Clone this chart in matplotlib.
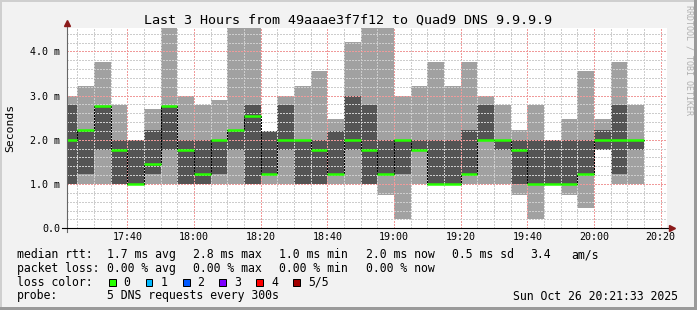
import numpy as np
import matplotlib.pyplot as plt
from matplotlib.patches import Rectangle

# SmokePing-Daten (ms), je 5-Minuten-Slot ab 17:20
first_slot = 17 * 60 + 20
step_min = 5
median = [2.0, 2.23, 2.77, 1.77, 1.0, 1.45, 2.77, 1.77, 1.22, 2.0,
          2.23, 2.53, 1.22, 2.0, 2.0, 1.77, 1.22, 2.0, 1.77, 1.22,
          2.0, 1.77, 1.0, 1.0, 1.22, 2.0, 2.0, 1.77, 1.0, 1.0,
          1.0, 1.22, 2.0, 2.0, 2.0]
ping_max = [3.0, 3.22, 3.76, 2.78, 2.0, 2.69, 4.6, 3.0, 2.78, 2.91,
            4.6, 4.6, 2.21, 3.0, 3.22, 3.55, 2.46, 4.22, 4.6, 4.6,
            3.0, 3.22, 3.76, 3.22, 3.76, 3.0, 2.78, 2.23, 2.78, 2.0,
            2.46, 3.55, 2.46, 3.76, 2.78]
ping_hi = [2.78, 2.23, 2.77, 2.0, 2.0, 2.23, 2.77, 2.0, 2.0, 2.0,
           2.23, 2.78, 2.21, 2.78, 2.0, 2.0, 2.21, 3.0, 2.78, 2.0,
           2.0, 2.0, 2.0, 2.0, 2.23, 2.78, 2.0, 2.0, 2.0, 2.0,
           2.0, 2.0, 2.23, 2.78, 2.0]
ping_lo = [1.0, 1.22, 1.77, 1.0, 1.0, 1.22, 1.77, 1.0, 1.0, 1.22,
           1.77, 1.0, 1.22, 1.77, 1.0, 1.0, 1.22, 1.77, 1.0, 1.22,
           1.22, 1.77, 1.0, 1.0, 1.22, 2.0, 1.77, 1.0, 1.0, 1.0,
           1.0, 1.22, 1.77, 1.22, 1.77]
ping_min = [1.0, 1.0, 1.0, 1.0, 1.0, 1.0, 1.0, 1.0, 1.0, 1.0,
            1.0, 1.0, 1.0, 1.0, 1.0, 1.0, 1.0, 1.0, 1.0, 0.76,
            0.21, 1.0, 1.0, 1.0, 1.0, 1.0, 1.0, 0.76, 0.21, 1.0,
            0.76, 0.46, 1.77, 1.0, 1.0]

time_labels = ["17:40", "18:00", "18:20", "18:40", "19:00", "19:20", "19:40", "20:00", "20:20"]
y_labels = ["0.0", "1.0 m", "2.0 m", "3.0 m", "4.0 m"]

title = "Last 3 Hours from 49aaae3f7f12 to Quad9 DNS 9.9.9.9"
rtt_items = ["median rtt:", "1.7 ms avg", "2.8 ms max", "1.0 ms min", "2.0 ms now", "0.5 ms sd", "3.4", "am/s"]
loss_items = ["packet loss:", "0.00 % avg", "0.00 % max", "0.00 % min", "0.00 % now"]
loss_names = ["0", "1", "2", "3", "4", "5/5"]
loss_colors = ["#26ff00", "#00b8ff", "#0059ff", "#7e00ff", "#ff0000", "#a10000"]
probe_text = "5 DNS requests every 300s"
stamp = "Sun Oct 26 20:21:33 2025"

W, H = 697, 310
MONO = "DejaVu Sans Mono"


def fx(px):
    return px / W


def fy(py):
    return 1 - py / H


plt.rcParams["font.family"] = MONO

fig = plt.figure(figsize=(W / 100, H / 100), dpi=100, facecolor="#f2f2f2")
ax = fig.add_axes([fx(66.7), fy(228.2), 600 / W, (228.2 - 27.5) / H])
ax.set_facecolor("white")

med = np.array(median)
x = first_slot + step_min * np.arange(len(med))
lo, hi = np.array(ping_lo), np.array(ping_hi)
mn, mx = np.array(ping_min), np.array(ping_max)

# Rauch: außen hell, innen dunkel
ax.bar(x, mx - mn, bottom=mn, width=step_min, align="edge", color="#a1a1a1", linewidth=0, zorder=1)
ax.bar(x, hi - lo, bottom=lo, width=step_min, align="edge", color="#545454", linewidth=0, zorder=1.1)
edges = np.append(x, x[-1] + step_min)
ax.stairs(med, edges, baseline=None, color="black", lw=1, ls=(0, (1, 1)), zorder=2.6,
          antialiased=False)
ax.hlines(med, x, x + step_min, color=loss_colors[0], lw=1.8, zorder=3)

ax.set_xlim(1041.8, 1221.8)
ax.set_ylim(0, 4.54)

ax.set_xticks(np.arange(1060, 1221, 20))
ax.set_xticklabels(time_labels)
ax.set_xticks(np.arange(1045, 1222, 5), minor=True)
ax.set_yticks(np.arange(0, 5))
ax.set_yticklabels(y_labels)
ax.set_yticks(np.arange(0.2, 4.54, 0.2), minor=True)
ax.tick_params(which="both", length=0)
ax.tick_params(axis="x", labelsize=7.2, pad=3)
ax.tick_params(axis="y", labelsize=7.2, pad=4.8)

# gepunktetes Gitter (ohne Antialiasing, daher deckende Farben)
ax.set_axisbelow(False)
ax.grid(which="minor", color="#cdcdcd", lw=1, ls=(0, (1, 1)), antialiased=False)
ax.grid(which="major", color="#f09a9a", lw=1, ls=(0, (1, 1)), antialiased=False)
for s in ax.spines.values():
    s.set_visible(False)

# Achsen mit Pfeilen
ax.plot([0, 0], [-0.02, 1.015], transform=ax.transAxes, color="#666666", lw=0.8, clip_on=False, zorder=4)
ax.plot([-0.008, 1.005], [0, 0], transform=ax.transAxes, color="black", lw=0.8, clip_on=False, zorder=4)
ax.plot(0, 1.02, marker="^", ms=4, color="#8b1a1a", transform=ax.transAxes, clip_on=False, zorder=5)
ax.plot(1.008, 0, marker=">", ms=4, color="#8b1a1a", transform=ax.transAxes, clip_on=False, zorder=5)

fig.text(fx(347.8), fy(24), title, ha="center", va="baseline", fontsize=9.6)
fig.text(fx(10), fy(127.9), "Seconds", rotation=90, ha="center", va="center", fontsize=8.2)
fig.text(fx(689), fy(60), "RRDTOOL / TOBI OETIKER", rotation=270, ha="center", va="center",
         fontsize=6, color="#b0b0b0")

# Legende
leg_size = 8.3
rtt_x = [16.7, 107, 193, 279, 365.7, 451.7, 530, 571.7]
for s, px in zip(rtt_items, rtt_x):
    fig.text(fx(px), fy(258.3), s, va="baseline", fontsize=leg_size)
for s, px in zip(loss_items, rtt_x):
    fig.text(fx(px), fy(272), s, va="baseline", fontsize=leg_size)

fig.text(fx(16.7), fy(285.8), "loss color:", va="baseline", fontsize=leg_size)
box_x = [109, 145.7, 183, 219.3, 256.3, 293.3]
name_x = [123.3, 160.7, 197.3, 234.3, 271, 308.3]
for name, col, bx, nx in zip(loss_names, loss_colors, box_x, name_x):
    fig.add_artist(Rectangle((fx(bx), fy(285.7)), 6.7 / W, 6.7 / H, transform=fig.transFigure,
                             facecolor=col, edgecolor="black", lw=0.72))
    fig.text(fx(nx), fy(285.8), name, va="baseline", fontsize=leg_size)

fig.text(fx(16.7), fy(299.5), "probe:", va="baseline", fontsize=leg_size)
fig.text(fx(107), fy(299.5), probe_text, va="baseline", fontsize=leg_size)
fig.text(fx(513.3), fy(299.5), stamp, va="baseline", fontsize=leg_size)

# Rahmen
fig.add_artist(Rectangle((0, fy(2)), 1, 2 / H, transform=fig.transFigure, color="#cfcfcf", lw=0))
fig.add_artist(Rectangle((0, 0), 2 / W, 1, transform=fig.transFigure, color="#cfcfcf", lw=0))
fig.add_artist(Rectangle((0, 0), 1, 3 / H, transform=fig.transFigure, color="#9a9a9a", lw=0))
fig.add_artist(Rectangle((fx(694), 0), 3 / W, 1, transform=fig.transFigure, color="#9a9a9a", lw=0))

fig.savefig("out.png", dpi=100, facecolor=fig.get_facecolor())
